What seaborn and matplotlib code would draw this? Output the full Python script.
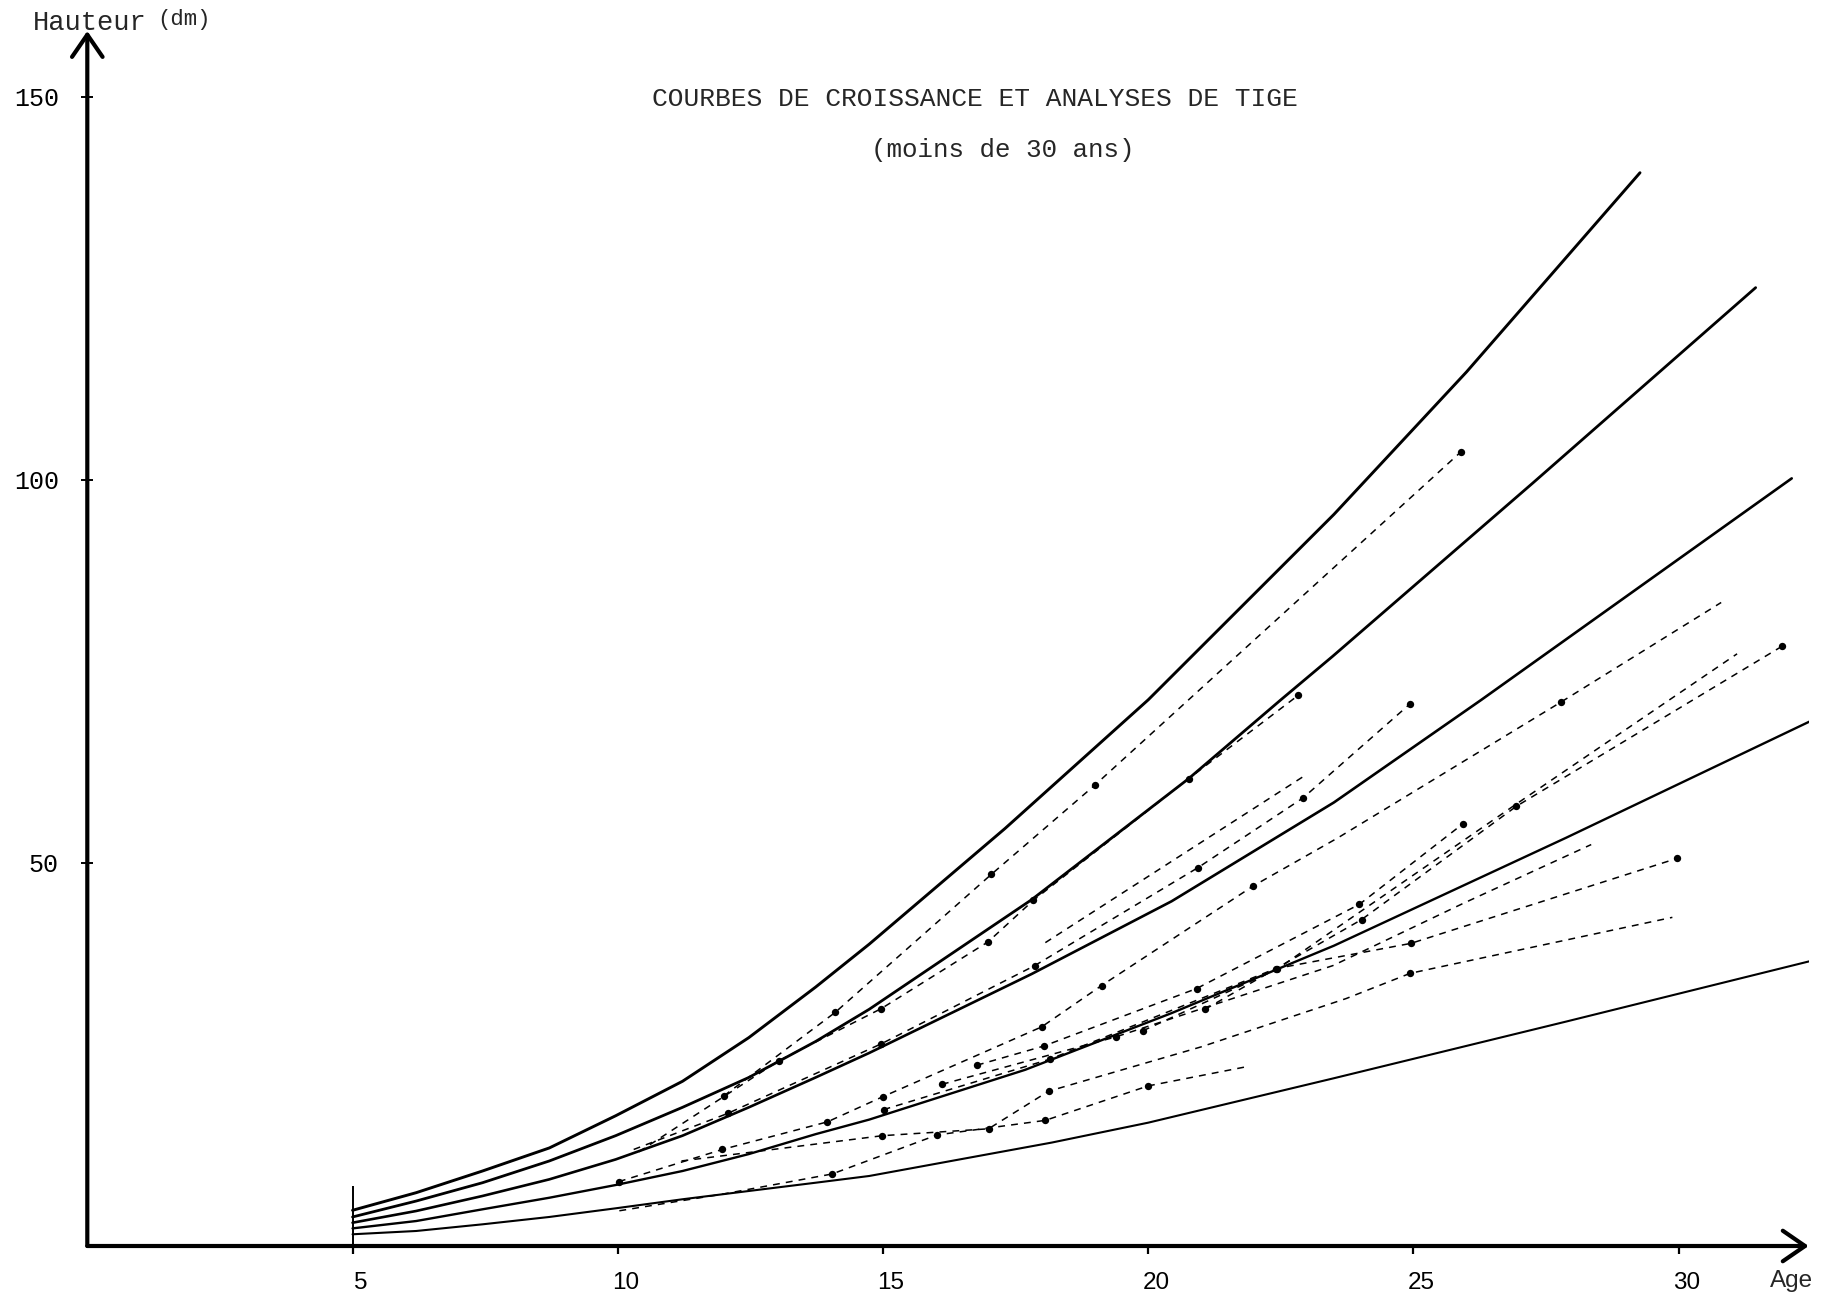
import numpy as np
import pandas as pd
import matplotlib
matplotlib.use("Agg")
import matplotlib.pyplot as plt
import seaborn as sns
from matplotlib.transforms import ScaledTranslation

# ---------------- data (age in years, height in dm) ----------------
curve_A_age = [5.0, 6.2, 7.45, 8.71, 9.96, 11.22, 12.47, 13.73, 14.74, 17.3, 20.0, 23.5, 26.0, 29.27]
curve_A_h = [4.66, 6.96, 9.79, 12.8, 17.0, 21.5, 27.2, 33.8, 39.4, 54.5, 71.3, 95.5, 114.1, 140.1]
curve_B_age = [5.0, 6.2, 7.45, 8.71, 9.96, 11.22, 12.47, 13.73, 14.74, 17.8, 20.76, 22.5, 23.48, 27.25, 31.45]
curve_B_h = [3.79, 5.87, 8.26, 11.1, 14.4, 18.1, 22.0, 26.7, 30.9, 45.2, 61.0, 71.3, 77.0, 99.6, 125.1]
curve_C_age = [5.0, 6.2, 7.45, 8.71, 9.96, 11.22, 12.47, 13.73, 14.74, 17.8, 20.44, 23.5, 26.28, 32.13]
curve_C_h = [3.04, 4.57, 6.53, 8.7, 11.3, 14.4, 18.1, 22.0, 25.2, 35.5, 45.0, 57.9, 71.3, 100.2]
curve_D_age = [5.0, 6.2, 7.45, 8.71, 9.96, 11.22, 12.47, 13.73, 14.74, 17.68, 20.44, 23.5, 27.88, 32.66]
curve_D_h = [2.3, 3.26, 4.79, 6.3, 7.96, 9.79, 12.0, 14.6, 16.5, 23.0, 30.4, 39.2, 53.3, 69.1]
curve_E_age = [5.0, 6.2, 7.45, 8.71, 9.96, 11.22, 12.47, 13.73, 14.74, 18.18, 20.0, 23.5, 27.88, 32.66]
curve_E_h = [1.53, 1.96, 2.83, 3.79, 4.92, 6.1, 7.18, 8.26, 9.14, 13.5, 16.1, 21.9, 29.3, 37.5]
curve_lw = [2.1, 2.0, 1.9, 1.7, 1.5]

start_age = 5
start_bar_top = 7.8

# stem analyses (dashed), 1 = measured point drawn as a dot
stem_1_age = [12.0, 14.1, 17.04, 19.0, 25.9]
stem_1_h = [19.6, 30.5, 48.5, 60.2, 103.7]
stem_1_dot = [1, 1, 1, 1, 1]
stem_2_age = [10.4, 13.04, 14.97, 16.98, 17.83, 20.76, 22.83]
stem_2_h = [12.3, 24.2, 31.0, 39.7, 45.1, 61.0, 71.9]
stem_2_dot = [0, 1, 1, 1, 1, 1, 1]
stem_3_age = [10.3, 12.07, 14.97, 17.86, 20.94, 22.92, 24.94]
stem_3_h = [12.6, 17.3, 26.4, 36.6, 49.4, 58.5, 70.8]
stem_3_dot = [0, 1, 1, 1, 1, 1, 1]
stem_4_age = [18.06, 22.95]
stem_4_h = [39.6, 61.4]
stem_4_dot = [0, 0]
stem_5_age = [10.02, 11.97, 13.95, 15.0, 17.99, 19.12, 21.98, 23.58, 27.78, 30.8]
stem_5_h = [8.4, 12.6, 16.2, 19.5, 28.6, 34.0, 47.0, 53.3, 71.0, 84.0]
stem_5_dot = [1, 1, 1, 1, 1, 1, 1, 0, 1, 0]
stem_6_age = [16.77, 18.03, 20.91, 23.98, 25.93]
stem_6_h = [23.6, 26.1, 33.6, 44.6, 55.1]
stem_6_dot = [1, 1, 1, 1, 1]
stem_7_age = [21.07, 24.02, 26.94, 31.95]
stem_7_h = [30.9, 42.6, 57.4, 78.3]
stem_7_dot = [1, 1, 1, 1]
stem_8_age = [19.9, 22.42, 26.94, 31.1]
stem_8_h = [28.1, 36.1, 57.7, 77.3]
stem_8_dot = [1, 1, 0, 0]
stem_9_age = [16.11, 19.39, 23.48, 25.93, 28.35]
stem_9_h = [21.1, 27.3, 36.6, 44.7, 52.4]
stem_9_dot = [1, 1, 0, 0, 0]
stem_10_age = [15.01, 18.15, 22.4, 24.95, 29.97]
stem_10_h = [17.8, 24.4, 36.2, 39.5, 50.6]
stem_10_dot = [1, 1, 1, 1, 1]
stem_11_age = [11.2, 14.99, 16.99, 18.12, 21.0, 23.73, 24.94, 29.88]
stem_11_h = [11.1, 14.4, 15.3, 20.2, 26.0, 32.3, 35.6, 42.9]
stem_11_dot = [0, 1, 1, 1, 0, 0, 1, 0]
stem_12_age = [10.03, 12.0, 14.04, 16.02, 18.06, 20.0, 21.85]
stem_12_h = [4.6, 6.8, 9.4, 14.5, 16.4, 20.9, 23.4]
stem_12_dot = [0, 0, 1, 1, 1, 1, 0]

x_ticks = [5, 10, 15, 20, 25, 30]
x_tick_labels = ["5", "10", "15", "20", "25", "30"]
y_ticks = [50, 100, 150]
y_tick_labels = ["50", "100", "150"]

title_1 = "COURBES DE CROISSANCE ET ANALYSES DE TIGE"
title_2 = "(moins de 30 ans)"
y_label = "Hauteur"
y_unit = "(dm)"
x_label = "Age"

# ---------------- tables ----------------
curves = pd.concat([
    pd.DataFrame({"curve": name, "age": a, "h": h})
    for name, a, h in [("A", curve_A_age, curve_A_h), ("B", curve_B_age, curve_B_h),
                       ("C", curve_C_age, curve_C_h), ("D", curve_D_age, curve_D_h),
                       ("E", curve_E_age, curve_E_h)]
], ignore_index=True)

stem_sets = [
    (stem_1_age, stem_1_h, stem_1_dot), (stem_2_age, stem_2_h, stem_2_dot),
    (stem_3_age, stem_3_h, stem_3_dot), (stem_4_age, stem_4_h, stem_4_dot),
    (stem_5_age, stem_5_h, stem_5_dot), (stem_6_age, stem_6_h, stem_6_dot),
    (stem_7_age, stem_7_h, stem_7_dot), (stem_8_age, stem_8_h, stem_8_dot),
    (stem_9_age, stem_9_h, stem_9_dot), (stem_10_age, stem_10_h, stem_10_dot),
    (stem_11_age, stem_11_h, stem_11_dot), (stem_12_age, stem_12_h, stem_12_dot),
]
stems = pd.concat([
    pd.DataFrame({"stem": i + 1, "age": a, "h": h, "measured": d})
    for i, (a, h, d) in enumerate(stem_sets)
], ignore_index=True)

# ---------------- figure ----------------
sns.set_theme(style="white")
plt.rcParams["font.family"] = ["Liberation Mono", "DejaVu Sans"]
plt.rcParams["lines.solid_capstyle"] = "round"
plt.rcParams["lines.solid_joinstyle"] = "round"

W, H = 1835, 1301
fig = plt.figure(figsize=(W / 100, H / 100), dpi=100)
fig.patch.set_facecolor("white")
ax = fig.add_axes([87.3 / W, 55 / H, 1721.4 / W, 1215 / H])
ax.set_facecolor("white")
ax.set_xlim(0, 32.45)
ax.set_ylim(0, 158.6)

for name, lw in zip(["A", "B", "C", "D", "E"], curve_lw):
    sns.lineplot(data=curves[curves["curve"] == name], x="age", y="h", ax=ax,
                 color="black", lw=lw, sort=False, estimator=None, legend=False)

ax.vlines(start_age, 0, start_bar_top, color="black", lw=1.4)

for k in stems["stem"].unique():
    sub = stems[stems["stem"] == k]
    sns.lineplot(data=sub, x="age", y="h", ax=ax, color="black", lw=1.1,
                 linestyle=(0, (4.5, 4)), sort=False, estimator=None, legend=False)
dots = stems[stems["measured"] == 1]
sns.scatterplot(data=dots, x="age", y="h", ax=ax, color="black", s=28,
                edgecolor="black", linewidth=0, legend=False, zorder=5)

for s in ax.spines.values():
    s.set_visible(False)
ax.grid(False)

arrow = dict(arrowstyle="->,head_length=0.8,head_width=0.55", lw=3.0,
             color="black", shrinkA=0, shrinkB=0, mutation_scale=20)
ax.annotate("", xy=(1, 0), xycoords="axes fraction", xytext=(0, 0),
            arrowprops=arrow, annotation_clip=False)
ax.annotate("", xy=(0, 1), xycoords="axes fraction", xytext=(0, 0),
            arrowprops=arrow, annotation_clip=False)

ax.set_xticks(x_ticks)
ax.set_xticklabels(x_tick_labels, family=["Liberation Sans Narrow", "Liberation Sans", "DejaVu Sans"],
                   fontsize=17.5)
ax.set_yticks(y_ticks)
ax.set_yticklabels(y_tick_labels, fontsize=18)
ax.tick_params(axis="x", direction="out", length=6, width=1.6, pad=13, colors="black",
               bottom=True)
ax.tick_params(axis="y", direction="inout", length=9, width=1.4, pad=16, colors="black",
               left=True)
for lab in ax.get_xticklabels():
    lab.set_transform(lab.get_transform() + ScaledTranslation(0.08, 0, fig.dpi_scale_trans))
ax.set_xlabel("")
ax.set_ylabel("")

def ftext(x, y, s, **kw):
    fig.text(x / W, 1 - y / H, s, **kw)

ftext(975, 99, title_1, ha="center", va="center", fontsize=18.9)
ftext(1003, 150, title_2, ha="center", va="center", fontsize=18.6)
ftext(33, 23, y_label, ha="left", va="center", fontsize=19.5)
ftext(157, 20, y_unit, ha="left", va="center", fontsize=16)
ftext(1792, 1281, x_label, ha="center", va="center", fontsize=17.5,
      family=["Liberation Sans Narrow", "Liberation Sans", "DejaVu Sans"])

fig.savefig("out.png", dpi=100, facecolor="white")
